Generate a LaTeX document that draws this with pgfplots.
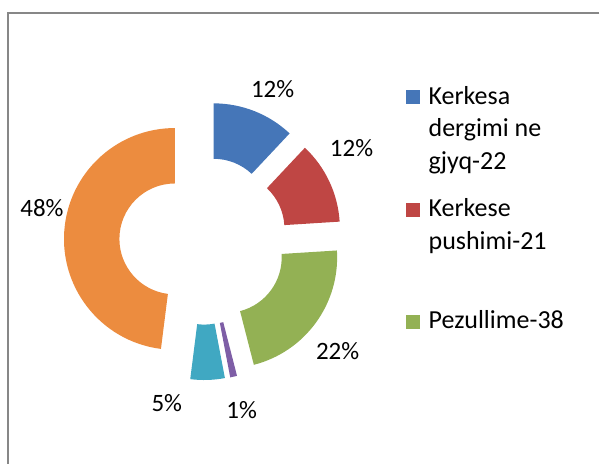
\documentclass[border=0pt]{standalone}
\usepackage{pgfplots}
\pgfplotsset{compat=1.18}
\usepackage{pgfplotstable}
\usepackage{fontspec}
\setmainfont{Carlito}
\usetikzlibrary{calc}

\definecolor{cBlue}{HTML}{4576B8}
\definecolor{cRed}{HTML}{BF4644}
\definecolor{cGreen}{HTML}{93B154}
\definecolor{cPurple}{HTML}{7E5EA6}
\definecolor{cAqua}{HTML}{40A8C2}
\definecolor{cOrange}{HTML}{EC8C3F}
\definecolor{frameGray}{HTML}{878787}

% values (percent of total), segment colour, label position (px, y up)
\pgfplotstableread{
value col lx ly
12 cBlue 273 376
12 cRed 352 317
22 cGreen 338 113
1 cPurple 242 54
5 cAqua 167 61
48 cOrange 42 257
}\donut

\begin{document}
\begin{tikzpicture}
\begin{axis}[
  hide axis, scale only axis,
  width=600bp, height=465bp,
  xmin=0, xmax=600, ymin=0, ymax=465,
  clip=false,
]
\path (axis cs:0,0) rectangle (axis cs:600,465);
\draw[frameGray, line width=1.5bp] (axis cs:600,452) -- (axis cs:8,452) -- (axis cs:8,0);

\pgfplotsextra{%
  \def\cum{0}%
  \pgfplotsforeachungrouped \i in {0,...,5}{%
    \pgfplotstablegetelem{\i}{value}\of\donut \edef\segv{\pgfplotsretval}%
    \pgfplotstablegetelem{\i}{col}\of\donut \edef\segcol{\pgfplotsretval}%
    \pgfplotstablegetelem{\i}{lx}\of\donut \edef\seglx{\pgfplotsretval}%
    \pgfplotstablegetelem{\i}{ly}\of\donut \edef\segly{\pgfplotsretval}%
    \pgfmathsetmacro\aA{90-3.6*\cum}%
    \pgfmathsetmacro\aB{90-3.6*(\cum+\segv)}%
    \pgfmathsetmacro\aM{(\aA+\aB)/2}%
    \pgfmathsetmacro\ox{203.5+28.5*cos(\aM)}%
    \pgfmathsetmacro\oy{224+28.5*sin(\aM)}%
    \fill[fill=\segcol] ($(axis cs:\ox,\oy)+(\aA:111bp)$)
      arc[start angle=\aA, end angle=\aB, radius=111bp]
      -- ($(axis cs:\ox,\oy)+(\aB:55.5bp)$)
      arc[start angle=\aB, end angle=\aA, radius=55.5bp] -- cycle;
    \node[inner sep=0pt, anchor=center, font=\fontsize{25bp}{30bp}\selectfont]
      at (axis cs:\seglx,\segly) {\segv\%};
    \pgfmathsetmacro\cum{\cum+\segv}%
  }%
}

% legend (first three entries, as in the original)
\fill[cBlue]  (axis cs:407,361) rectangle (axis cs:421,375);
\fill[cRed]   (axis cs:407,248) rectangle (axis cs:421,262);
\fill[cGreen] (axis cs:407,136) rectangle (axis cs:421,150);
\begin{scope}[every node/.style={anchor=base west, inner sep=0pt, font=\fontsize{26bp}{32bp}\selectfont}]
\node at (axis cs:429,360) {Kerkesa};
\node at (axis cs:429,328) {dergimi ne};
\node at (axis cs:429,295) {gjyq-22};
\node at (axis cs:429,248) {Kerkese};
\node at (axis cs:429,215) {pushimi-21};
\node at (axis cs:429,136) {Pezullime-38};
\end{scope}
\end{axis}
\end{tikzpicture}
\end{document}
